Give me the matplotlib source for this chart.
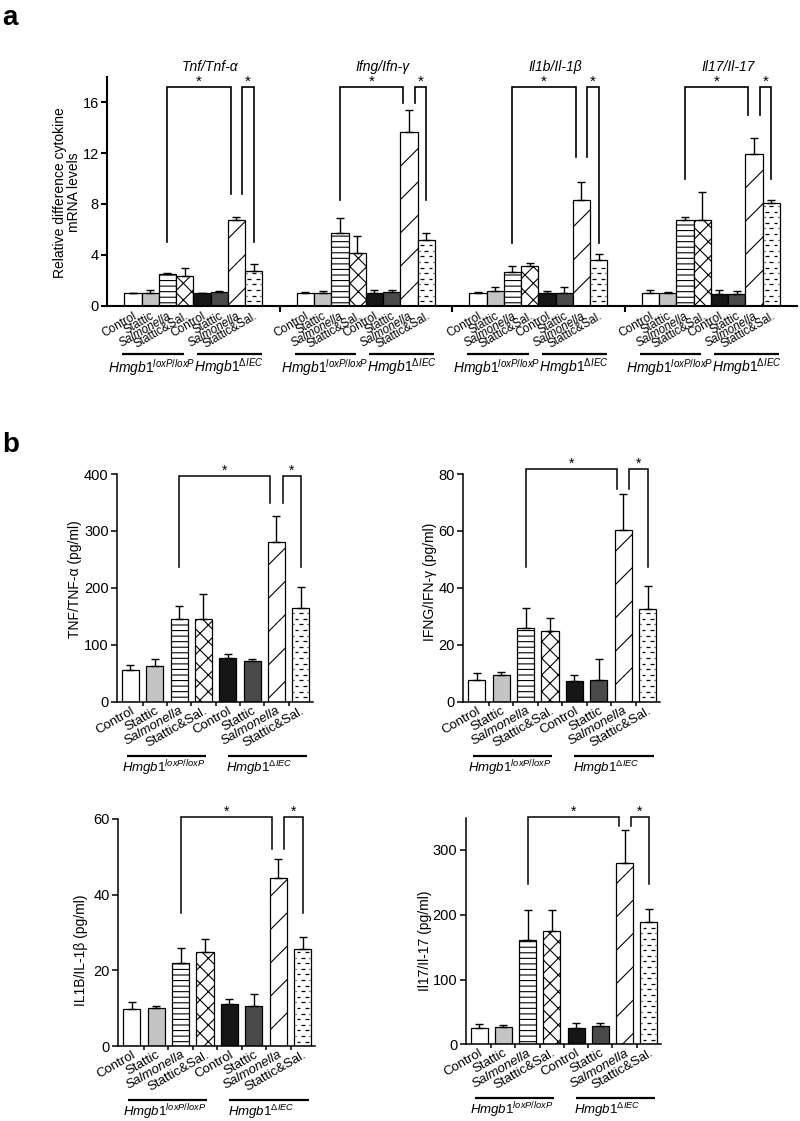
import numpy as np
import matplotlib
matplotlib.use('Agg')
import matplotlib.pyplot as plt
import matplotlib.transforms as mtransforms

plt.rcParams['font.family'] = ['Liberation Sans', 'DejaVu Sans']
plt.rcParams['mathtext.fontset'] = 'custom'
plt.rcParams['mathtext.rm'] = 'Liberation Sans'
plt.rcParams['mathtext.it'] = 'Liberation Sans:italic'
plt.rcParams['hatch.linewidth'] = 0.8

# ---------------- data ----------------
conditions = ['Control', 'Stattic', 'Salmonella', 'Stattic&Sal.',
              'Control', 'Stattic', 'Salmonella', 'Stattic&Sal.']
genotype_labels = [r'$\mathit{Hmgb1}^{\mathit{loxP/loxP}}$',
                   r'$\mathit{Hmgb1}^{\mathit{\Delta IEC}}$']

# panel a: relative mRNA levels
mrna_genes = ['Tnf/Tnf-α', 'Ifng/Ifn-γ', 'Il1b/Il-1β', 'Il17/Il-17']
tnf_mrna = [1.0, 0.97, 2.5, 2.3, 1.0, 1.1, 6.75, 2.73]
tnf_mrna_err = [0.02, 0.26, 0.1, 0.7, 0.03, 0.03, 0.2, 0.52]
ifng_mrna = [1.0, 1.0, 5.7, 4.12, 1.0, 1.1, 13.65, 5.17]
ifng_mrna_err = [0.1, 0.15, 1.23, 1.38, 0.25, 0.1, 1.75, 0.58]
il1b_mrna = [1.02, 1.13, 2.65, 3.12, 1.02, 1.02, 8.32, 3.6]
il1b_mrna_err = [0.02, 0.31, 0.47, 0.24, 0.16, 0.42, 1.44, 0.44]
il17_mrna = [1.02, 1.02, 6.75, 6.72, 0.9, 0.95, 11.94, 8.08]
il17_mrna_err = [0.18, 0.03, 0.25, 2.23, 0.3, 0.23, 1.21, 0.22]
# significance brackets (left leg, middle legs, right leg, top)
mrna_brackets = [(5.0, 8.77, 5.0, 17.2), (8.3, 15.9, 8.3, 17.2),
                 (4.96, 11.65, 4.96, 17.2), (9.97, 15.0, 9.97, 17.2)]

# panel b: protein (pg/ml)
tnf_prot = [55, 63, 144.7, 146, 76, 71, 280, 164]
tnf_prot_err = [10, 12, 24, 43, 8, 4, 46, 37]
ifng_prot = [7.6, 9.3, 25.9, 25.0, 7.4, 7.5, 60.4, 32.5]
ifng_prot_err = [2.6, 1.3, 6.9, 4.3, 1.9, 7.5, 12.4, 8.0]
il1b_prot = [9.7, 10.0, 22.0, 24.85, 11.0, 10.6, 44.3, 25.55]
il1b_prot_err = [1.9, 0.7, 4.0, 3.45, 1.5, 3.1, 5.0, 3.25]
il17_prot = [25.2, 26.2, 160.6, 175, 25.2, 28.3, 279.5, 189.4]
il17_prot_err = [5.7, 4.2, 47, 32, 8.3, 5.2, 51, 19]

prot_ylabels = ['TNF/TNF-α (pg/ml)', 'IFNG/IFN-γ (pg/ml)',
                'IL1B/IL-1β (pg/ml)', 'Il17/Il-17 (pg/ml)']
prot_ylims = [400, 80, 60, 350]
prot_yticks = [[0, 100, 200, 300, 400], [0, 20, 40, 60, 80],
               [0, 20, 40, 60], [0, 100, 200, 300]]
prot_brackets = [(237, 349.6, 237, 396.5), (47.3, 74.7, 47.3, 81.8),
                 (35.1, 52, 35.1, 60.6), (247.6, 337, 247.6, 351.5)]

# ---------------- styles ----------------
styles = [
    dict(facecolor='white', hatch=None, dashes=False),
    dict(facecolor='#c4c4c4', hatch=None, dashes=False),
    dict(facecolor='white', hatch='---', dashes=False),
    dict(facecolor='white', hatch='xx', dashes=False),
    dict(facecolor='#161616', hatch=None, dashes=False),
    dict(facecolor='#4a4a4a', hatch=None, dashes=False),
    dict(facecolor='white', hatch='/', dashes=False),
    dict(facecolor='white', hatch=None, dashes=True),
]

W, H = 800, 1121
fig = plt.figure(figsize=(W / 100, H / 100), dpi=100)


def add_ax(left, right, bottom, top):
    return fig.add_axes([left / W, 1 - bottom / H, (right - left) / W, (bottom - top) / H])


def dash_fill(ax, xc, w, h, ytop, ax_h_px, lw):
    step = 5.6 * ytop / ax_h_px
    ys = np.arange(step * 0.8, h - step * 0.4, step)
    left = xc - w / 2
    for k, y in enumerate(ys):
        if k % 2 == 0:
            segs = [(0.14, 0.36), (0.64, 0.86)]
        else:
            segs = [(0.06, 0.12), (0.39, 0.61), (0.88, 0.94)]
        for a, b in segs:
            ax.plot([left + a * w, left + b * w], [y, y], color='k', lw=lw,
                    solid_capstyle='butt', zorder=3)


def draw_bars(ax, xs, vals, errs, width, ytop, ax_h_px, lw=0.9):
    for x, v, st in zip(xs, vals, styles):
        ax.bar(x, v, width, facecolor=st['facecolor'], edgecolor='black',
               linewidth=lw, hatch=st['hatch'], zorder=2)
        if st['dashes']:
            dash_fill(ax, x, width, v, ytop, ax_h_px, 0.9)
    ax.errorbar(xs, vals, yerr=[np.zeros(len(vals)), errs], fmt='none',
                ecolor='black', elinewidth=1.0, capsize=3, capthick=1.0, zorder=4)


def bracket(ax, x1, x2, y1, y2, top, lw, star_fs):
    ax.plot([x1, x1, x2, x2], [y1, top, top, y2], color='black', lw=lw,
            clip_on=False, solid_joinstyle='miter', zorder=5)
    ax.annotate('*', xy=((x1 + x2) / 2, top), xytext=(0, 3.5),
                textcoords='offset points', ha='center', va='center',
                fontsize=star_fs, annotation_clip=False)


def style_axis(ax, lw):
    for s in ['top', 'right']:
        ax.spines[s].set_visible(False)
    for s in ['left', 'bottom']:
        ax.spines[s].set_linewidth(lw)
    ax.tick_params(axis='y', direction='out', length=4, width=lw, labelsize=10.5, pad=2)


# ---------------- panel a ----------------
ax_a = add_ax(107, 797, 305.7, 76.7)
ah_px = 305.7 - 76.7
mrna_vals = [tnf_mrna, ifng_mrna, il1b_mrna, il17_mrna]
mrna_errs = [tnf_mrna_err, ifng_mrna_err, il1b_mrna_err, il17_mrna_err]
ax_a.set_xlim(0, 40)
ax_a.set_ylim(0, 18)
ax_a.set_yticks([0, 4, 8, 12, 16])
style_axis(ax_a, 1.5)
blend_a = mtransforms.blended_transform_factory(ax_a.transData, ax_a.transAxes)
all_x = []
for g in range(4):
    off = 10 * g
    xs = off + 1.5 + np.arange(8)
    all_x.extend(xs)
    draw_bars(ax_a, xs, mrna_vals[g], mrna_errs[g], 1.0, 18, ah_px)
    yl, ym, yr, top = mrna_brackets[g]
    bracket(ax_a, off + 3.5, off + 7.5 - 0.33, yl, ym, top, 1.2, 11)
    bracket(ax_a, off + 7.5 + 0.33, off + 8.5, ym, yr, top, 1.2, 11)
    ax_a.text(off + 6, 1.044, mrna_genes[g], transform=blend_a, ha='center',
              va='center', fontsize=10, fontstyle='italic')
    for (x0, x1), xt, lab in zip([(0.87, 4.46), (5.2, 8.97)], [2.6, 7.07], genotype_labels):
        ax_a.plot([off + x0, off + x1], [-0.211, -0.211], transform=blend_a,
                  color='black', lw=1.6, clip_on=False, solid_capstyle='butt')
        ax_a.text(off + xt, -0.27, lab, transform=blend_a, ha='center',
                  va='center', fontsize=10)
ax_a.set_xticks(all_x)
ax_a.set_xticklabels(conditions * 4, rotation=30, ha='right', va='top',
                     rotation_mode='anchor', fontsize=8.5)
for lab in ax_a.get_xticklabels():
    if lab.get_text() == 'Salmonella':
        lab.set_fontstyle('italic')
ax_a.tick_params(axis='x', which='major', length=0, pad=3)
ax_a.set_xticks([10, 20, 30], minor=True)
ax_a.tick_params(axis='x', which='minor', length=4, width=1.5, direction='out')
fig.text(67 / W, 1 - 192.5 / H, 'Relative difference cytokine\nmRNA levels',
         rotation=90, ha='center', va='center', fontsize=10, linespacing=1.0)

# ---------------- panel b ----------------
prot_vals = [tnf_prot, ifng_prot, il1b_prot, il17_prot]
prot_errs = [tnf_prot_err, ifng_prot_err, il1b_prot_err, il17_prot_err]
boxes = [(117, 313, 701.7, 474), (463.3, 660, 701.7, 474),
         (118.3, 315, 1046, 819), (465.7, 661, 1044.3, 817.6)]
ylabel_pos = [(75, 579), (430, 582), (81, 950), (425, 941)]
xs = np.arange(8)
for k in range(4):
    l, r, b, t = boxes[k]
    ax = add_ax(l, r, b, t)
    ax.set_xlim(-0.55, 7.5)
    ax.set_ylim(0, prot_ylims[k])
    ax.set_yticks(prot_yticks[k])
    style_axis(ax, 1.1)
    draw_bars(ax, xs, prot_vals[k], prot_errs[k], 0.7, prot_ylims[k], b - t)
    yl, ym, yr, top = prot_brackets[k]
    bracket(ax, 2, 6 - 0.25, yl, ym, top, 1.1, 10)
    bracket(ax, 6 + 0.25, 7, ym, yr, top, 1.1, 10)
    ax.set_xticks(xs)
    ax.set_xticklabels(conditions, rotation=30, ha='right', va='top',
                       rotation_mode='anchor', fontsize=9.5)
    for lab in ax.get_xticklabels():
        if lab.get_text() == 'Salmonella':
            lab.set_fontstyle('italic')
    ax.tick_params(axis='x', which='major', length=0, pad=2)
    ax.set_xticks(np.arange(7) + 0.5, minor=True)
    ax.tick_params(axis='x', which='minor', length=3, width=1.1, direction='out')
    blend = mtransforms.blended_transform_factory(ax.transData, ax.transAxes)
    for (x0, x1), xt, lab in zip([(-0.15, 3.1), (4.0, 7.25)], [1.35, 5.3], genotype_labels):
        ax.plot([x0, x1], [-0.238, -0.238], transform=blend, color='black',
                lw=1.6, clip_on=False, solid_capstyle='butt')
        ax.text(xt, -0.29, lab, transform=blend, ha='center', va='center',
                fontsize=9.5)
    fx, fy = ylabel_pos[k]
    fig.text(fx / W, 1 - fy / H, prot_ylabels[k], rotation=90, ha='center',
             va='center', fontsize=10)

fig.text(2 / W, 1 - 25 / H, 'a', fontsize=20, fontweight='bold', va='baseline')
fig.text(2 / W, 1 - 452 / H, 'b', fontsize=20, fontweight='bold', va='baseline')

fig.savefig('out.png', dpi=100, facecolor='white')
